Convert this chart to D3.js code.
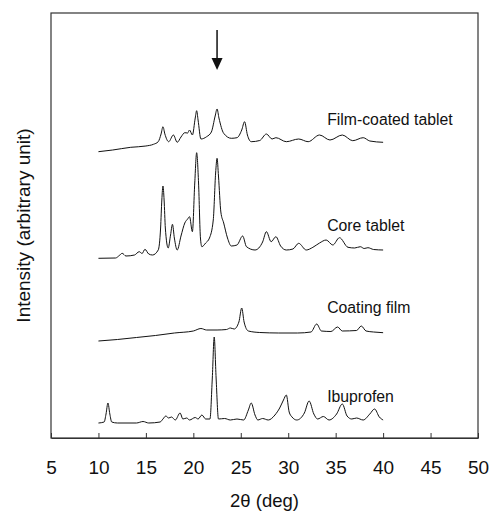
<!DOCTYPE html>
<html>
<head>
<meta charset="utf-8">
<script src="https://cdn.jsdelivr.net/npm/d3@7"></script>
<style>
	body { margin: 0; background: #fff; }
	text { font-family: "Liberation Sans", Arial, sans-serif; fill: #111; }
</style>
</head>
<body>
<script>
/*
XRD patterns of ibuprofen, coating film, core tablet and film-coated tablet.
Intensities are in arbitrary units, already offset per trace.
*/

var xTicks = [5, 10, 15, 20, 25, 30, 35, 40, 45, 50];
var seriesNames = ['Film-coated tablet', 'Core tablet', 'Coating film', 'Ibuprofen'];
var arrowAt = 22.5; // 2theta of the marked peak

// [2theta, intensity]
var filmCoated = [
	[10.0, 286.3], [11.5, 288], [13.4, 290.7], [15.0, 292], [15.8, 293.7], [16.3, 296.3],
	[16.6, 304], [16.8, 311.3], [17.0, 304], [17.4, 296.3], [17.9, 303], [18.3, 295.7],
	[18.7, 301], [19.1, 305.3], [19.4, 305], [19.6, 308], [19.9, 303], [20.2, 320],
	[20.35, 327.3], [20.5, 318], [20.8, 299], [21.4, 301.3], [21.9, 306], [22.3, 322],
	[22.5, 329], [22.7, 320], [23.2, 304.7], [24.0, 299.7], [24.6, 300.3], [25.1, 308],
	[25.4, 316.3], [25.7, 303], [26.1, 296.3], [27.0, 297.5], [27.7, 304], [28.3, 299],
	[28.7, 300.3], [29.8, 296.3], [31.1, 299], [32.1, 296.3], [33.3, 303], [34.4, 298],
	[35.7, 303], [36.8, 297.3], [37.9, 300.3], [38.6, 297], [40.0, 295.7]
];

var coreTablet = [
	[10.0, 179.7], [11.8, 180], [12.2, 182.5], [12.5, 184.7], [12.9, 182], [13.8, 183],
	[14.3, 186.3], [14.6, 184.5], [14.9, 188.7], [15.3, 184], [15.7, 183], [16.3, 188],
	[16.55, 210], [16.68, 238], [16.8, 252], [16.92, 238], [17.05, 210], [17.35, 190],
	[17.6, 203], [17.8, 213.7], [18.0, 200], [18.3, 188], [18.7, 202], [19.1, 215],
	[19.4, 219], [19.6, 221.3], [19.9, 206.3], [20.15, 255], [20.35, 285.3], [20.55, 255],
	[20.75, 200], [20.9, 191.3], [21.3, 195], [21.7, 200], [22.1, 218], [22.35, 265],
	[22.5, 279.7], [22.65, 262], [22.9, 226], [23.2, 215], [23.6, 200], [24.0, 192],
	[24.6, 193], [25.2, 202], [25.6, 191.3], [26.5, 188], [27.3, 196], [27.7, 206.3],
	[28.2, 196.3], [28.7, 201.3], [29.2, 192], [29.8, 188], [30.5, 189], [31.1, 194.7],
	[31.9, 188], [32.6, 190.7], [33.3, 195], [34.0, 198], [34.7, 193], [35.4, 200.3],
	[36.3, 190.7], [37.0, 190], [37.6, 191.3], [38.0, 189.5], [38.4, 190.3], [39.0, 188.5],
	[40.0, 188]
];

var coatingFilm = [
	[10.0, 97], [12.0, 98.5], [14.0, 100.5], [16.0, 102.5], [18.0, 105], [20.0, 107],
	[20.8, 109.5], [21.4, 108], [22.5, 108], [23.5, 108.5], [23.9, 110], [24.3, 109],
	[24.8, 116], [25.1, 130], [25.35, 116], [25.8, 107], [27.0, 105.5], [29.0, 105],
	[31.0, 105], [32.4, 106], [33.0, 114], [33.5, 107], [34.5, 106.5], [35.2, 111],
	[35.7, 107], [37.2, 107.5], [37.7, 112], [38.2, 107], [39.0, 106], [40.0, 105.3]
];

var ibuprofen = [
	[10.0, 15], [10.6, 16], [10.8, 24], [11.0, 35], [11.2, 24], [11.4, 16], [12.0, 15],
	[14.0, 15], [14.7, 16.5], [15.3, 15], [16.5, 16], [16.8, 19], [17.1, 22], [17.4, 20],
	[17.7, 21], [18.1, 18], [18.6, 25], [18.9, 19], [19.3, 20], [19.6, 18], [20.2, 20.5],
	[20.5, 19], [20.9, 23], [21.3, 19], [21.75, 19], [22.0, 60], [22.2, 101], [22.4, 60],
	[22.65, 19], [23.3, 19.5], [23.9, 18], [24.6, 19], [25.3, 18], [25.8, 28], [26.1, 35],
	[26.5, 23], [26.8, 18], [27.3, 19.5], [27.9, 18], [28.6, 23], [29.1, 30], [29.5, 38],
	[29.8, 43], [30.1, 26], [30.4, 21], [30.9, 18], [31.7, 25], [32.2, 37], [32.7, 24],
	[33.1, 19], [33.7, 21.5], [34.3, 18], [35.1, 24], [35.7, 34], [36.2, 22], [36.7, 19],
	[37.2, 20], [37.9, 18], [38.6, 24], [39.1, 29], [39.6, 21], [40.0, 18]
];

var traces = [filmCoated, coreTablet, coatingFilm, ibuprofen];

var W = 490, H = 514;
var margin = {top: 13, right: 12, bottom: 76, left: 51};
var w = W - margin.left - margin.right,
	h = H - margin.top - margin.bottom;

var svg = d3.select('body').append('svg')
	.attr('width', W)
	.attr('height', H);

var g = svg.append('g')
	.attr('transform', 'translate(' + margin.left + ',' + margin.top + ')');

var x = d3.scaleLinear().domain([5, 50]).range([0, w]);
var y = d3.scaleLinear().domain([0, h]).range([h, 0]);

// frame
g.append('rect')
	.attr('width', w)
	.attr('height', h)
	.attr('fill', 'none')
	.attr('stroke', '#333')
	.attr('stroke-width', 1.2);

// inward ticks on the bottom
var xAxis = d3.axisBottom(x)
	.tickValues(xTicks)
	.tickSizeInner(-5)
	.tickSizeOuter(0);

var ax = g.append('g')
	.attr('transform', 'translate(0,' + h + ')')
	.call(xAxis);
ax.select('.domain').attr('stroke', '#333').attr('stroke-width', 1.2);
ax.selectAll('.tick line').attr('stroke', '#333');
ax.selectAll('.tick text')
	.attr('y', 29)
	.attr('dy', '0.35em')
	.style('font-size', '19px')
	.style('font-family', '"Liberation Sans", Arial, sans-serif')
	.attr('fill', '#111');

// traces
var line = d3.line()
	.x(function(d){ return x(d[0]); })
	.y(function(d){ return y(d[1]); })
	.curve(d3.curveMonotoneX);

g.selectAll('path.trace')
	.data(traces).enter()
	.append('path')
	.attr('class', 'trace')
	.attr('d', line)
	.attr('fill', 'none')
	.attr('stroke', '#111')
	.attr('stroke-width', 1);

// series labels, placed above the right end of each trace
var labelY = [313, 207.3, 125, 36.3];
g.selectAll('text.series')
	.data(seriesNames).enter()
	.append('text')
	.attr('class', 'series')
	.attr('x', x(34.1))
	.attr('y', function(d, i){ return y(labelY[i]); })
	.style('font-size', '15.8px')
	.text(function(d){ return d; });

// arrow over the 22.5 deg peak
var ax0 = x(arrowAt);
g.append('line')
	.attr('x1', ax0).attr('x2', ax0)
	.attr('y1', 17).attr('y2', 48)
	.attr('stroke', '#111')
	.attr('stroke-width', 1.5);
g.append('path')
	.attr('d', 'M' + (ax0 - 5.5) + ',45 L' + (ax0 + 5.5) + ',45 L' + ax0 + ',57 Z')
	.attr('fill', '#111');

// axis titles
svg.append('text')
	.attr('x', margin.left + w / 2)
	.attr('y', 501)
	.attr('dy', '0.35em')
	.attr('text-anchor', 'middle')
	.style('font-size', '18.5px')
	.text('2θ (deg)');

svg.append('text')
	.attr('transform', 'translate(23,' + (margin.top + h / 2) + ') rotate(-90)')
	.attr('dy', '0.35em')
	.attr('text-anchor', 'middle')
	.style('font-size', '19px')
	.text('Intensity (arbitrary unit)');
</script>
</body>
</html>
